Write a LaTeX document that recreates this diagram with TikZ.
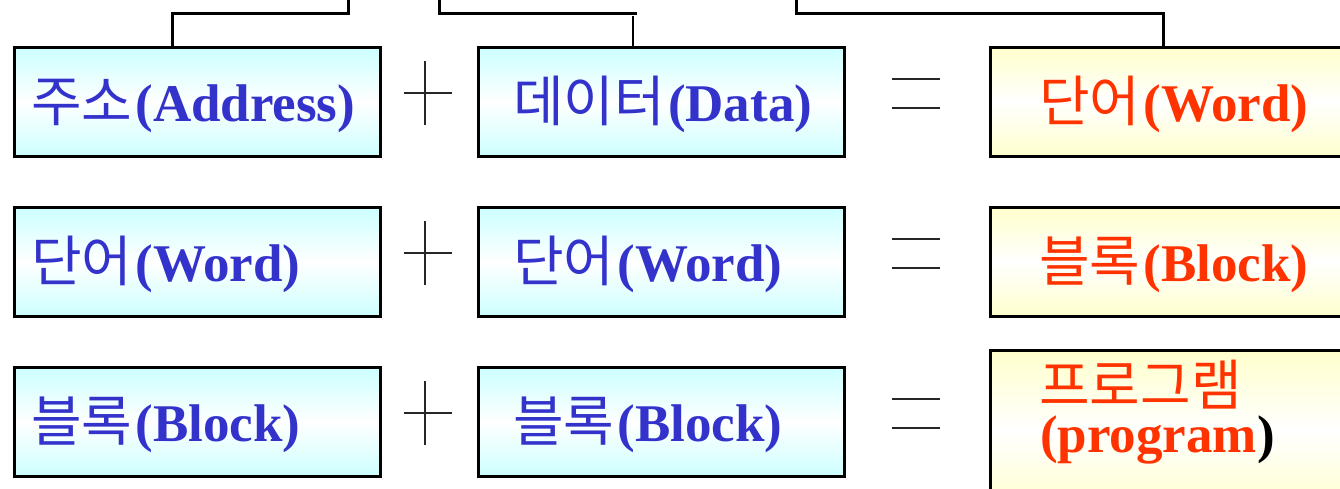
\documentclass[tikz,border=0pt]{standalone}
\usepackage{fontspec}
\setmainfont{Liberation Serif}
\newfontfamily\kr{Noto Sans CJK KR}
\definecolor{termblue}{HTML}{3333CC}
\definecolor{termred}{HTML}{FF3300}
\definecolor{boxcyan}{HTML}{CCFFFF}
\definecolor{boxyellow}{HTML}{FFFFCC}
\newcommand{\hg}[1]{{\kr\mdseries\fontsize{55}{58}\selectfont #1}\hspace{3pt}}
\begin{document}
\begin{tikzpicture}[x=1pt,y=-1pt,
  termbox/.style={draw=black, line width=3pt, top color=boxcyan, bottom color=boxcyan, middle color=white, minimum width=366pt, minimum height=109pt, inner sep=0pt, anchor=north west},
  sumbox/.style={termbox, top color=boxyellow, bottom color=boxyellow, middle color=white},
  lbl/.style={anchor=base west, inner sep=0pt, font=\fontsize{53}{56}\selectfont\bfseries},
  inblue/.style={lbl, text=termblue},
  inred/.style={lbl, text=termred},
  link/.style={line width=3pt, line cap=rect},
  opline/.style={line width=2pt, draw=black!85}]
\useasboundingbox (0,0) rectangle (1340,488);
\clip (0,0) rectangle (1340,488);

% row 1
\node[termbox] (a1) at (13,46) {};
\node[termbox] (a2) at (477,46) {};
\node[sumbox, minimum width=380pt] (a3) at (989,46) {};
\node[inblue] (ta1) at (31,121) {\hg{주소}(Address)};
\node[inblue] (ta2) at (513,121) {\hg{데이터}(Data)};
\node[inred] (ta3) at (1039,121) {\hg{단어}(Word)};

% row 2
\node[termbox] (b1) at (13,206) {};
\node[termbox] (b2) at (477,206) {};
\node[sumbox, minimum width=380pt] (b3) at (989,206) {};
\node[inblue] (tb1) at (31,281) {\hg{단어}(Word)};
\node[inblue] (tb2) at (513,281) {\hg{단어}(Word)};
\node[inred] (tb3) at (1039,281) {\hg{블록}(Block)};

% row 3
\node[termbox] (c1) at (13,366) {};
\node[termbox] (c2) at (477,366) {};
\node[sumbox, minimum width=380pt, minimum height=160pt] (c3) at (989,349) {};
\node[inblue] (tc1) at (31,441) {\hg{블록}(Block)};
\node[inblue] (tc2) at (513,441) {\hg{블록}(Block)};
\node[inred] (tc3a) at (1039,405) {\hg{프로그램}};
\node[inred] (tc3b) at (1040,452) {(program\textcolor{black}{)}};

% plus and equals signs
\foreach \dy in {0,160,320} {
  \draw[opline] (425,61+\dy) -- (425,125+\dy);
  \draw[opline] (404,93+\dy) -- (452,93+\dy);
  \draw[opline] (892,79+\dy) -- (940,79+\dy);
  \draw[opline] (892,108+\dy) -- (940,108+\dy);
}

% bracket links along the top edge
\coordinate (e1) at (348,-5);
\coordinate (e2) at (439,-5);
\coordinate (e3) at (635,13);
\coordinate (e4) at (633,16);
\coordinate (e5) at (796,-5);
\draw[link] (a1.north west) ++(159,0) |- (348,13) -- (e1);
\draw[link] (e2) |- (e3);
\draw[line width=2pt] (e4) -- (a2.north west -| e4);
\draw[link] (e5) |- (1163,13) -- (a3.north west -| 1163,0);
\end{tikzpicture}
\end{document}
